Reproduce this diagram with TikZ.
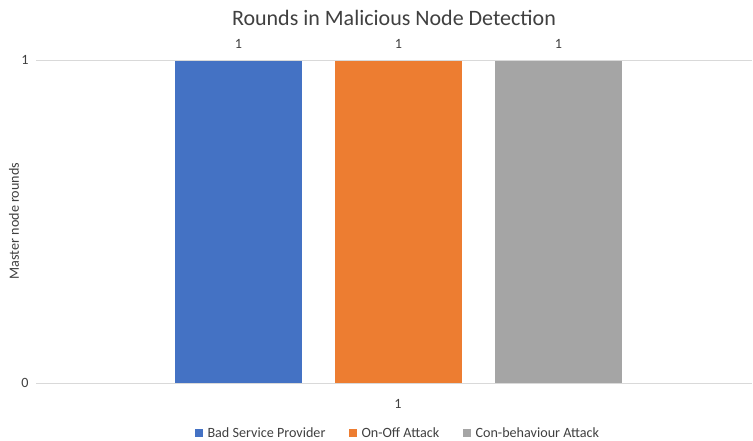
\documentclass[tikz,border=0pt]{standalone}
\usepackage{fontspec}
\setmainfont{Carlito}
\usetikzlibrary{positioning}

\definecolor{barblue}{HTML}{4472C4}
\definecolor{barorange}{HTML}{ED7D31}
\definecolor{bargray}{HTML}{A5A5A5}
\definecolor{gridcol}{HTML}{D9D9D9}
\definecolor{labelcol}{HTML}{404040}

\begin{document}
\begin{tikzpicture}[x=0.75pt,y=-0.75pt,
	lbl/.style={text=labelcol,font=\fontsize{10.6}{12}\selectfont,inner sep=1pt},
	key/.style={minimum size=6pt,inner sep=0pt}]
	\useasboundingbox[fill=white] (0,0) rectangle (753,440);
	% title
	\node[text=labelcol,font=\fontsize{16.5}{19}\selectfont] (title) at (394,18) {Rounds in Malicious Node Detection};
	% grid and axis
	\draw[gridcol,line width=1pt] (36,60.5) -- (752,60.5);
	\draw[gridcol,line width=1pt] (36,383.5) -- (752,383.5);
	\node[lbl] (tick1) at (25,60) {1};
	\node[lbl] (tick0) at (25,383) {0};
	\node[lbl,rotate=90] (ytitle) at (14,221) {Master node rounds};
	% bars
	\foreach \x/\c/\n in {175/barblue/bsp,335/barorange/onoff,495/bargray/conb}{
		\fill[\c] (\x,60.5) rectangle (\x+127,383);
		\node[lbl] (val-\n) at (\x+63.5,44) {1};
	}
	\node[lbl] (cat) at (398,404) {1};
	% legend
	\node[key,fill=barblue] (k1) at (199,433) {};
	\node[lbl,right=2pt of k1] (l1) {Bad Service Provider};
	\node[key,fill=barorange] (k2) at (353,433) {};
	\node[lbl,right=2pt of k2] (l2) {On-Off Attack};
	\node[key,fill=bargray] (k3) at (467,433) {};
	\node[lbl,right=2pt of k3] (l3) {Con-behaviour Attack};
\end{tikzpicture}
\end{document}
